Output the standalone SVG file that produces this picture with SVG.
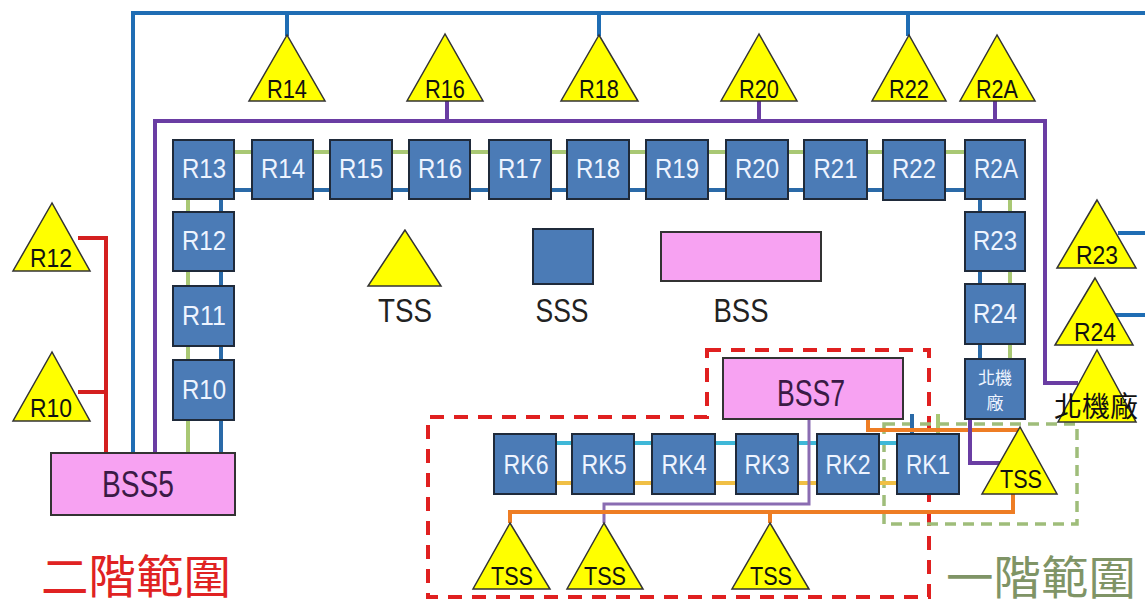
<svg xmlns="http://www.w3.org/2000/svg" width="1145" height="604" viewBox="0 0 1145 604">
<defs>
<style>
.box{fill:#4b7bb6;stroke:#1f2a3a;stroke-width:2}
.bt{fill:#eef4ff;font-family:"Liberation Sans",Arial,sans-serif;font-size:27px;text-anchor:middle}
.tri{fill:#ffff00;stroke:#333;stroke-width:1.5}
.tt{fill:#111;font-family:"Liberation Sans",Arial,sans-serif;font-size:25px;text-anchor:middle}
.bss{fill:#f7a2f2;stroke:#333;stroke-width:2}
.bsst{fill:#3a1a45;font-family:"Liberation Sans",Arial,sans-serif;font-size:37px;text-anchor:middle}
.lg{fill:#222;font-family:"Liberation Sans",Arial,sans-serif;font-size:33px;text-anchor:middle}
.blue{stroke:#1f6db4;stroke-width:4;fill:none}
.purple{stroke:#6a3da3;stroke-width:4;fill:none}
.red{stroke:#d42020;stroke-width:4;fill:none}
.green{stroke:#a9c874;stroke-width:4;fill:none}
.dblue{stroke:#2a6aa8;stroke-width:4;fill:none}
.cyan{stroke:#3fb8d8;stroke-width:4;fill:none}
.yel{stroke:#f0bf45;stroke-width:4;fill:none}
.orange{stroke:#ee7d24;stroke-width:4;fill:none}
.lpurple{stroke:#8a6cb2;stroke-width:3;fill:none}
.cjk{font-family:"Liberation Sans","Noto Sans CJK TC",sans-serif}
</style>
</defs>
<rect width="1145" height="604" fill="#ffffff"/>

<g id="zones">
<path d="M707,350 H929 V597 H428 V417 H707 Z" fill="none" stroke="#e02020" stroke-width="4" stroke-dasharray="14,10"/>
<rect x="884" y="424" width="193" height="100" fill="none" stroke="#9fbd7a" stroke-width="3.5" stroke-dasharray="11,7"/>
</g>

<g id="connectors">
<polyline class="blue" points="1145,13 133,13 133,453"/>
<line class="blue" x1="287" y1="13" x2="287" y2="36"/>
<line class="blue" x1="599" y1="13" x2="599" y2="36"/>
<line class="blue" x1="908" y1="13" x2="908" y2="36"/>
<polyline class="purple" points="155,453 155,121 1045,121 1045,383 1078,383"/>
<line class="purple" x1="447" y1="101" x2="447" y2="121"/>
<line class="purple" x1="759" y1="101" x2="759" y2="121"/>
<line class="purple" x1="995" y1="101" x2="995" y2="121"/>
<polyline class="red" points="106,453 106,238 78,238"/>
<line class="red" x1="78" y1="392" x2="106" y2="392"/>
<line class="green" x1="204" y1="152" x2="995" y2="152"/>
<line class="dblue" x1="204" y1="190" x2="995" y2="190"/>
<line class="green" x1="188" y1="170" x2="188" y2="453"/>
<line class="dblue" x1="221" y1="170" x2="221" y2="453"/>
<line class="dblue" x1="980" y1="170" x2="980" y2="390"/>
<line class="green" x1="1010" y1="170" x2="1010" y2="390"/>
<line class="blue" x1="1118" y1="233" x2="1145" y2="233"/>
<line class="blue" x1="1116" y1="315" x2="1145" y2="315"/>
<line class="cyan" x1="525" y1="443" x2="928" y2="443"/>
<line class="yel" x1="525" y1="483" x2="928" y2="483"/>
<line class="dblue" x1="912" y1="414" x2="912" y2="434"/>
<line class="green" x1="938" y1="414" x2="938" y2="434"/>
<polyline class="lpurple" points="809,418 809,504 604,504 604,523"/>
<polyline class="orange" points="868,418 868,430 1020,430"/>
<polyline class="orange" points="1013,494 1013,512 510,512 510,523"/>
<line class="orange" x1="770" y1="512" x2="770" y2="523"/>
<polyline class="purple" points="970,418 970,463 1000,463"/>
</g>

<g id="legend">
<polygon class="tri" points="405,230 368,286 441,286"/>
<text class="lg" x="405" y="322" textLength="54" lengthAdjust="spacingAndGlyphs">TSS</text>
<rect x="533" y="229" width="60" height="55" fill="#4b7bb6" stroke="#1f2a3a" stroke-width="2"/>
<text class="lg" x="562" y="322" textLength="53" lengthAdjust="spacingAndGlyphs">SSS</text>
<rect class="bss" x="661" y="232" width="160" height="49"/>
<text class="lg" x="741" y="322" textLength="55" lengthAdjust="spacingAndGlyphs">BSS</text>
</g>

<g id="t-R14"><polygon class="tri" points="287,35 249,101 325,101"/><text class="tt" x="287" y="98" textLength="40" lengthAdjust="spacingAndGlyphs">R14</text></g>
<g id="t-R16"><polygon class="tri" points="445,34 407,101 483,101"/><text class="tt" x="445" y="98" textLength="40" lengthAdjust="spacingAndGlyphs">R16</text></g>
<g id="t-R18"><polygon class="tri" points="599,35 561,101 638,101"/><text class="tt" x="599" y="98" textLength="40" lengthAdjust="spacingAndGlyphs">R18</text></g>
<g id="t-R20"><polygon class="tri" points="759,34 721,101 797,101"/><text class="tt" x="759" y="98" textLength="40" lengthAdjust="spacingAndGlyphs">R20</text></g>
<g id="t-R22"><polygon class="tri" points="909,35 872,101 946,101"/><text class="tt" x="909" y="98" textLength="40" lengthAdjust="spacingAndGlyphs">R22</text></g>
<g id="t-R2A"><polygon class="tri" points="997,35 960,101 1035,101"/><text class="tt" x="997" y="98" textLength="42" lengthAdjust="spacingAndGlyphs">R2A</text></g>
<g id="t-R12"><polygon class="tri" points="52,203 13,271 90,271"/><text class="tt" x="51" y="267" textLength="42" lengthAdjust="spacingAndGlyphs">R12</text></g>
<g id="t-R10"><polygon class="tri" points="52,352 13,421 90,421"/><text class="tt" x="51" y="417" textLength="42" lengthAdjust="spacingAndGlyphs">R10</text></g>
<g id="t-R23"><polygon class="tri" points="1097,200 1057,268 1136,268"/><text class="tt" x="1097" y="264" textLength="42" lengthAdjust="spacingAndGlyphs">R23</text></g>
<g id="t-R24"><polygon class="tri" points="1095,278 1055,345 1133,345"/><text class="tt" x="1095" y="341" textLength="42" lengthAdjust="spacingAndGlyphs">R24</text></g>
<g id="t-north"><polygon class="tri" points="1097,350 1058,422 1136,422"/><text class="cjk" x="1096" y="417" font-size="28" fill="#111" text-anchor="middle" textLength="84" lengthAdjust="spacingAndGlyphs">北機廠</text></g>

<g id="b-R13"><rect class="box" x="173" y="140" width="61" height="59"/><text class="bt" x="204" y="178" textLength="44" lengthAdjust="spacingAndGlyphs">R13</text></g>
<g id="b-R14"><rect class="box" x="252" y="140" width="61" height="59"/><text class="bt" x="283" y="178" textLength="44" lengthAdjust="spacingAndGlyphs">R14</text></g>
<g id="b-R15"><rect class="box" x="330" y="140" width="62" height="59"/><text class="bt" x="361" y="178" textLength="44" lengthAdjust="spacingAndGlyphs">R15</text></g>
<g id="b-R16"><rect class="box" x="409" y="140" width="61" height="59"/><text class="bt" x="440" y="178" textLength="44" lengthAdjust="spacingAndGlyphs">R16</text></g>
<g id="b-R17"><rect class="box" x="489" y="140" width="62" height="59"/><text class="bt" x="520" y="178" textLength="44" lengthAdjust="spacingAndGlyphs">R17</text></g>
<g id="b-R18"><rect class="box" x="567" y="140" width="62" height="59"/><text class="bt" x="598" y="178" textLength="44" lengthAdjust="spacingAndGlyphs">R18</text></g>
<g id="b-R19"><rect class="box" x="646" y="140" width="62" height="59"/><text class="bt" x="677" y="178" textLength="44" lengthAdjust="spacingAndGlyphs">R19</text></g>
<g id="b-R20"><rect class="box" x="726" y="140" width="62" height="59"/><text class="bt" x="757" y="178" textLength="44" lengthAdjust="spacingAndGlyphs">R20</text></g>
<g id="b-R21"><rect class="box" x="804" y="140" width="63" height="59"/><text class="bt" x="835.5" y="178" textLength="44" lengthAdjust="spacingAndGlyphs">R21</text></g>
<g id="b-R22"><rect class="box" x="883" y="140" width="62" height="60"/><text class="bt" x="914" y="178" textLength="44" lengthAdjust="spacingAndGlyphs">R22</text></g>
<g id="b-R2A"><rect class="box" x="965" y="140" width="60" height="59"/><text class="bt" x="996" y="178" textLength="44" lengthAdjust="spacingAndGlyphs">R2A</text></g>
<g id="b-R12"><rect class="box" x="173" y="212" width="61" height="59"/><text class="bt" x="204" y="250" textLength="44" lengthAdjust="spacingAndGlyphs">R12</text></g>
<g id="b-R11"><rect class="box" x="173" y="286" width="61" height="60"/><text class="bt" x="204" y="325" textLength="44" lengthAdjust="spacingAndGlyphs">R11</text></g>
<g id="b-R10"><rect class="box" x="173" y="360" width="61" height="60"/><text class="bt" x="204" y="399" textLength="44" lengthAdjust="spacingAndGlyphs">R10</text></g>
<g id="b-R23"><rect class="box" x="965" y="212" width="60" height="59"/><text class="bt" x="995" y="250" textLength="44" lengthAdjust="spacingAndGlyphs">R23</text></g>
<g id="b-R24"><rect class="box" x="965" y="284" width="60" height="60"/><text class="bt" x="995" y="323" textLength="44" lengthAdjust="spacingAndGlyphs">R24</text></g>
<g id="b-north"><rect class="box" x="965" y="359" width="60" height="60"/><text class="cjk" x="995" y="384" font-size="17" fill="#eef4ff" text-anchor="middle">北機</text><text class="cjk" x="995" y="409" font-size="17" fill="#eef4ff" text-anchor="middle">廠</text></g>

<g id="b-RK6"><rect class="box" x="494" y="434" width="62" height="60"/><text class="bt" x="526" y="474" textLength="45" lengthAdjust="spacingAndGlyphs">RK6</text></g>
<g id="b-RK5"><rect class="box" x="572" y="434" width="62" height="60"/><text class="bt" x="604" y="474" textLength="45" lengthAdjust="spacingAndGlyphs">RK5</text></g>
<g id="b-RK4"><rect class="box" x="652" y="434" width="63" height="60"/><text class="bt" x="684" y="474" textLength="45" lengthAdjust="spacingAndGlyphs">RK4</text></g>
<g id="b-RK3"><rect class="box" x="736" y="434" width="62" height="60"/><text class="bt" x="767" y="474" textLength="45" lengthAdjust="spacingAndGlyphs">RK3</text></g>
<g id="b-RK2"><rect class="box" x="817" y="434" width="62" height="60"/><text class="bt" x="848" y="474" textLength="45" lengthAdjust="spacingAndGlyphs">RK2</text></g>
<g id="b-RK1"><rect class="box" x="897" y="434" width="62" height="60"/><text class="bt" x="928" y="474" textLength="44" lengthAdjust="spacingAndGlyphs">RK1</text></g>

<g id="t-TSS1"><polygon class="tri" points="510,523 473,589 550,589"/><text class="tt" x="512" y="585" font-size="28" textLength="42" lengthAdjust="spacingAndGlyphs">TSS</text></g>
<g id="t-TSS2"><polygon class="tri" points="604,523 567,589 643,589"/><text class="tt" x="605" y="585" font-size="28" textLength="42" lengthAdjust="spacingAndGlyphs">TSS</text></g>
<g id="t-TSS3"><polygon class="tri" points="770,523 732,589 809,589"/><text class="tt" x="771" y="585" font-size="28" textLength="42" lengthAdjust="spacingAndGlyphs">TSS</text></g>
<g id="t-TSS4"><polygon class="tri" points="1020,427 982,494 1057,494"/><text class="tt" x="1021" y="488" font-size="27" textLength="42" lengthAdjust="spacingAndGlyphs">TSS</text></g>

<g id="BSS5"><rect class="bss" x="51" y="453" width="184" height="62"/><text class="bsst" x="138" y="497" textLength="72" lengthAdjust="spacingAndGlyphs">BSS5</text></g>
<g id="BSS7"><rect class="bss" x="723" y="358" width="180" height="61"/><text class="bsst" x="811" y="406" font-size="36" textLength="68" lengthAdjust="spacingAndGlyphs">BSS7</text></g>

<g id="labels">
<text class="cjk" x="136" y="593" font-size="46" fill="#e02222" text-anchor="middle" textLength="190" lengthAdjust="spacingAndGlyphs">二階範圍</text>
<text class="cjk" x="1041" y="594" font-size="46" fill="#7f9466" text-anchor="middle" textLength="190" lengthAdjust="spacingAndGlyphs">一階範圍</text>
</g>
</svg>
